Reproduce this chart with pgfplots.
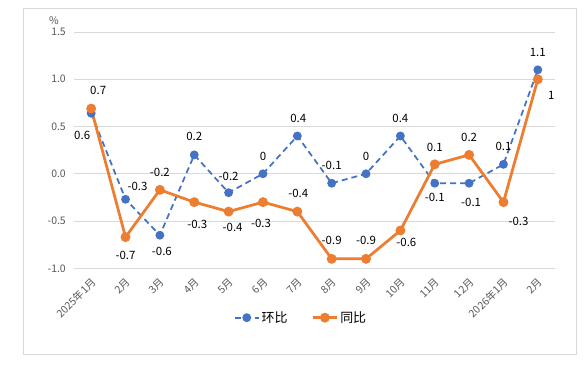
\documentclass[border=0pt]{standalone}
\usepackage{fontspec}
\setmainfont{Noto Sans CJK SC}
\usepackage{pgfplots}
\usepackage{pgfplotstable}
\pgfplotsset{compat=1.18}
\definecolor{hbblue}{HTML}{4472C4}
\definecolor{tborange}{HTML}{ED7D31}
\definecolor{gridgray}{HTML}{D9D9D9}
\definecolor{ticktext}{HTML}{595959}

\pgfplotstableread{
x hb hbl hbdx hbdy tb tbl tbdx tbdy
0 0.64 0.6 -9 -22 0.69 0.7 7 18
1 -0.27 -0.3 12 12.5 -0.67 -0.7 0 -18.5
2 -0.65 -0.6 2 -16 -0.17 -0.2 0 17
3 0.2 0.2 0 18 -0.3 -0.3 3 -22
4 -0.2 -0.2 0 16.5 -0.4 -0.4 4 -16
5 0 0 0 17.5 -0.3 -0.3 -2 -21
6 0.4 0.4 1 17.7 -0.4 -0.4 1 18
7 -0.1 -0.1 0 17.5 -0.9 -0.9 0 18
8 0 0 0 17.5 -0.9 -0.9 0 18
9 0.4 0.4 0 17.7 -0.6 -0.6 6 -12
10 -0.1 -0.1 0 -14 0.1 0.1 0 17
11 -0.1 -0.1 2 -19 0.2 0.2 0 17.5
12 0.1 0.1 0 18 -0.3 -0.3 15 -19.5
13 1.1 1.1 0 17.5 1.0 1 13.5 -15.7
}\datatable

\begin{document}
\begin{tikzpicture}
\useasboundingbox[fill=white] (0,0) rectangle (588bp,367bp);
\draw[gridgray, line width=0.75bp] (23bp,12.7bp) rectangle (576bp,358.7bp);
\begin{axis}[
  scale only axis, width=481bp, height=236.3bp,
  at={(74bp,98.7bp)}, anchor=south west,
  xmin=-0.5, xmax=13.5, ymin=-1, ymax=1.5,
  clip=false,
  axis line style={draw=none},
  major tick length=0pt,
  ymajorgrids, grid style={gridgray, line width=0.75bp},
  ytick={-1,-0.5,0,0.5,1,1.5},
  /pgf/number format/assume math mode=true,
  yticklabel style={/pgf/number format/fixed, /pgf/number format/fixed zerofill,
    /pgf/number format/precision=1, font=\fontsize{10.5}{12}\selectfont,
    text=ticktext, anchor=east, inner sep=0pt, xshift=-8bp},
  xtick={0,...,13},
  xticklabels={2025年1月,2月,3月,4月,5月,6月,7月,8月,9月,10月,11月,12月,2026年1月,2月},
  xticklabel style={font=\fontsize{10.5}{12}\selectfont, text=ticktext,
    inner sep=0pt, yshift=-12bp, xshift=3bp, rotate=45, anchor=east},
  legend columns=2,
  legend style={at={(0.472,-0.209)}, anchor=center, draw=none, fill=none,
    font=\fontsize{13}{15}\selectfont, text=black,
    /tikz/every even column/.append style={column sep=22bp}},
  legend image code/.code={\draw[mark repeat=2, mark phase=2, #1]
    plot coordinates {(0bp,0bp) (12bp,0bp) (24bp,0bp)};},
]
\addplot[color=hbblue, line width=1.75bp, dash pattern=on 6bp off 4bp,
  mark=*, mark size=3.5bp, mark options={solid, fill=hbblue, draw=hbblue},
  point meta=explicit symbolic,
  visualization depends on={\thisrow{hbdx}\as\ldx},
  visualization depends on={\thisrow{hbdy}\as\ldy},
  nodes near coords,
  every node near coord/.append style={anchor=center, inner sep=0pt,
    xshift=\ldx bp, yshift=\ldy bp, font=\fontsize{11.5}{13}\selectfont, text=black}]
  table[x=x, y=hb, meta=hbl] {\datatable};
\addlegendentry{环比}
\addplot[color=tborange, line width=2.75bp,
  mark=*, mark size=3.5bp, mark options={solid, fill=tborange, draw=tborange},
  point meta=explicit symbolic,
  visualization depends on={\thisrow{tbdx}\as\ldx},
  visualization depends on={\thisrow{tbdy}\as\ldy},
  nodes near coords,
  every node near coord/.append style={anchor=center, inner sep=0pt,
    xshift=\ldx bp, yshift=\ldy bp, font=\fontsize{11.5}{13}\selectfont, text=black}]
  table[x=x, y=tb, meta=tbl] {\datatable};
\addlegendentry{同比}
\node[font=\fontsize{10.5}{12}\selectfont, text=ticktext] at (rel axis cs:-0.0416,1.048) {\%};
\end{axis}
\end{tikzpicture}
\end{document}
